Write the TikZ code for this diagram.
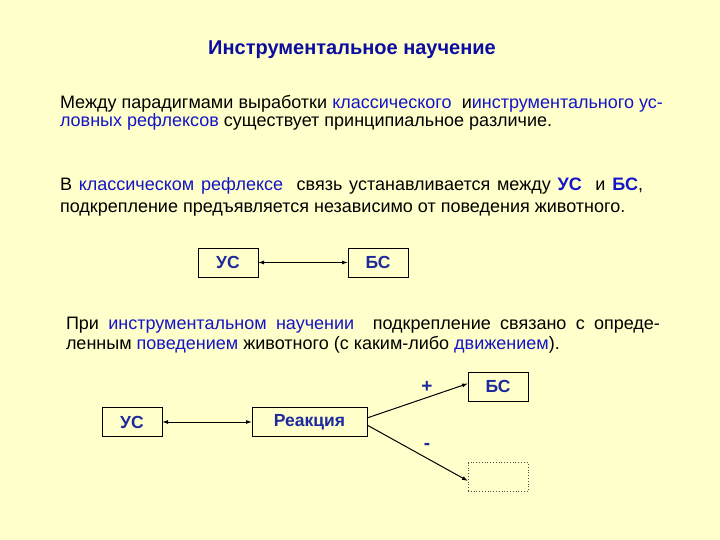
\documentclass[tikz,border=0pt]{standalone}
\usepackage{fontspec}
\setmainfont{Liberation Sans}
\usetikzlibrary{positioning,arrows.meta,calc}

\definecolor{slidebg}{HTML}{FFFFCC}
\definecolor{keyblue}{HTML}{1414C8}
\definecolor{titleblue}{HTML}{0C0CA0}
\definecolor{boxblue}{HTML}{1C2A9C}
\newcommand{\kw}[1]{\textcolor{keyblue}{#1}}

\begin{document}
\begin{tikzpicture}[
  x=1pt, y=-1pt,
  every node/.style={inner sep=0pt, outer sep=0pt},
  txt/.style={anchor=base west, font=\fontsize{18}{20}\selectfont},
  term/.style={draw=black, line width=0.8pt, fill=slidebg, minimum width=60pt,
               minimum height=29pt, text=boxblue, font=\fontsize{17.5}{20}\selectfont\bfseries},
  link/.style={-{Latex[length=6pt,width=4pt]}, line width=1pt},
  sign/.style={font=\fontsize{19}{20}\selectfont\bfseries, text=boxblue}
]
  \useasboundingbox[fill=slidebg] (0,0) rectangle (720,540);

  % --- title ---
  \node[text=titleblue, font=\fontsize{20}{22}\selectfont\bfseries, anchor=base]
       (title) at (352,55) {Инструментальное научение};

  % --- paragraph 1 ---
  \node[txt] (p1a) at (60,109)
       {\makebox[603pt][s]{Между парадигмами выработки \kw{классического}\ \ и\kw{инструментального ус-}}};
  \node[txt] (p1b) at (60,127) {\kw{ловных рефлексов} существует принципиальное различие.};

  % --- paragraph 2 ---
  \node[txt] (p2a) at (60,191)
       {\makebox[583pt][s]{В \kw{классическом рефлексе}\ \ связь устанавливается между \textbf{\kw{УС}}\ \ и \textbf{\kw{БС}},}};
  \node[txt] (p2b) at (60,212) {подкрепление предъявляется независимо от поведения животного.};

  % --- classical scheme ---
  \node[term] (us1) at (228,262.5) {УС};
  \node[term] (bs1) at (378,262.5) {БС};
  \draw[link, {Latex[length=6pt,width=4pt]}-{Latex[length=6pt,width=4pt]}] (us1) -- (bs1);

  % --- paragraph 3 ---
  \node[txt] (p3a) at (66,329)
       {\makebox[594pt][s]{При \kw{инструментальном научении}\ \ подкрепление связано с опреде-}};
  \node[txt] (p3b) at (66,349) {ленным \kw{поведением} животного (с каким-либо \kw{движением}).};

  % --- instrumental scheme ---
  \node[term] (us2) at (132,422) {УС};
  \node[term, minimum width=115pt] (react) at (309.5,422) {Реакция};
  \node[term] (bs2) at (498,386.5) {БС};
  \node[term, draw=black!70, dotted] (void) at (498,477) {};

  \draw[link, {Latex[length=6pt,width=4pt]}-{Latex[length=6pt,width=4pt]}] (us2) -- (react);
  \draw[link] ([yshift=4pt]react.east) -- ([yshift=3pt]bs2.west);
  \draw[link] ([yshift=-3pt]react.east) -- ([yshift=-4pt]void.west);

  \node[sign] (plus) at (427,387) {+};
  \node[sign] (minus) at (427,446) {-};
\end{tikzpicture}
\end{document}
